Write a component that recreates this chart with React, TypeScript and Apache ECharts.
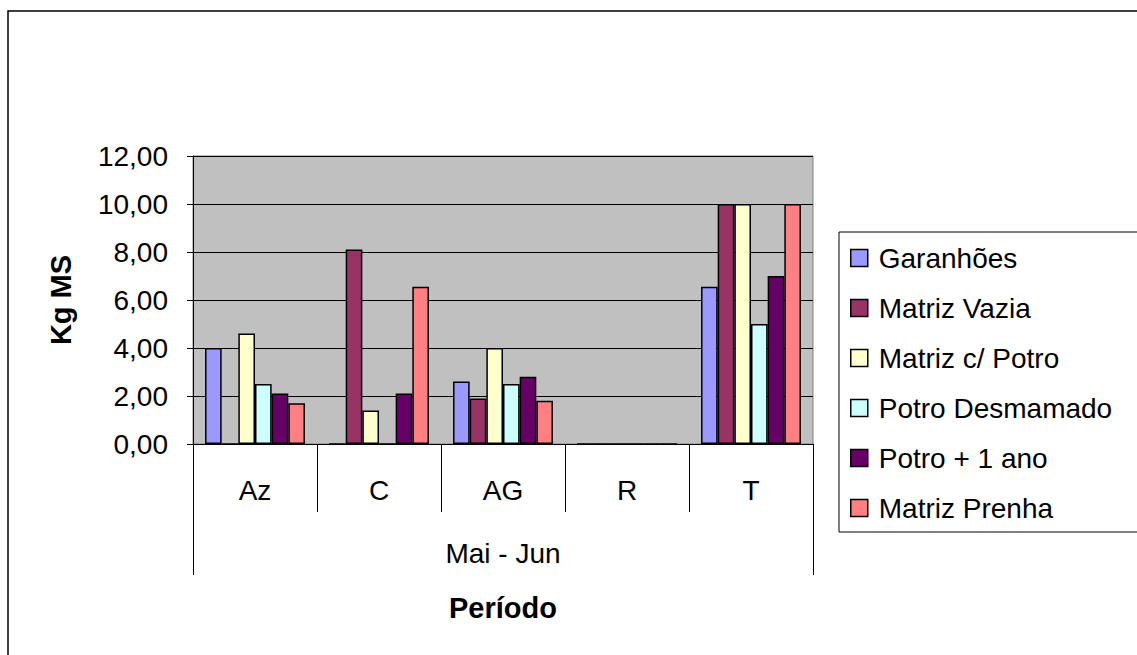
import React, { useEffect, useRef } from "react";
import * as echarts from "echarts";

const categories = ["Az", "C", "AG", "R", "T"];
const groupLabels = ["Mai - Jun"];
const seriesNames = [
  "Garanhões",
  "Matriz Vazia",
  "Matriz c/ Potro",
  "Potro Desmamado",
  "Potro + 1 ano",
  "Matriz Prenha",
];
const garanhoes = [4.0, 0, 2.6, 0, 6.55];
const matrizVazia = [0, 8.1, 1.9, 0, 10.0];
const matrizCPotro = [4.6, 1.4, 4.0, 0, 10.0];
const potroDesmamado = [2.5, 0, 2.5, 0, 5.0];
const potroMais1 = [2.1, 2.1, 2.8, 0, 7.0];
const matrizPrenha = [1.7, 6.55, 1.8, 0, 10.0];
const seriesValues = [garanhoes, matrizVazia, matrizCPotro, potroDesmamado, potroMais1, matrizPrenha];
const seriesColors = ["#9999FF", "#993366", "#FFFFCC", "#CCFFFF", "#660066", "#FF8080"];
const yMin = 0;
const yMax = 12;
const yInterval = 2;
const yTitle = "Kg MS";
const xTitle = "Período";

const FONT = "'Liberation Sans', Arial, sans-serif";

export default function App() {
  const ref = useRef<HTMLDivElement>(null);
  useEffect(() => {
    if (!ref.current) return;
    const chart = echarts.init(ref.current, undefined, { renderer: "svg" });
    chart.setOption({
      animation: false,
      backgroundColor: "#ffffff",
      textStyle: { fontFamily: FONT, color: "#000" },
      graphic: [
        {
          type: "rect",
          z: -10,
          shape: { x: 8, y: 11, width: 1400, height: 900 },
          style: { fill: "none", stroke: "#000", lineWidth: 1.5 },
          silent: true,
        },
      ],
      grid: {
        left: 193,
        top: 156,
        width: 620,
        height: 288,
        show: true,
        backgroundColor: "#C0C0C0",
        borderColor: "#808080",
        borderWidth: 1,
        containLabel: false,
      },
      legend: {
        orient: "vertical",
        left: 839,
        top: 232,
        padding: [11, 60, 9, 11],
        backgroundColor: "#fff",
        borderColor: "#000",
        borderWidth: 1,
        borderRadius: 0,
        itemWidth: 17,
        itemHeight: 17,
        itemGap: 20,
        icon: "rect",
        itemStyle: { borderColor: "#000", borderWidth: 1.5 },
        textStyle: {
          fontFamily: FONT,
          fontSize: 28,
          color: "#000",
          lineHeight: 30,
          padding: [0, 0, 0, 6],
        },
        data: seriesNames,
      },
      xAxis: [
        {
          type: "category",
          data: categories,
          gridIndex: 0,
          position: "bottom",
          axisLine: { show: true, lineStyle: { color: "#000", width: 1 } },
          axisTick: {
            show: true,
            interval: 0,
            length: 68,
            alignWithLabel: false,
            lineStyle: { color: "#000", width: 1 },
          },
          axisLabel: {
            interval: 0,
            margin: 32,
            fontSize: 28,
            fontFamily: FONT,
            color: "#000",
            lineHeight: 28,
          },
          splitLine: { show: false },
        },
        {
          type: "category",
          data: groupLabels,
          gridIndex: 0,
          position: "bottom",
          axisLine: { show: false },
          axisTick: {
            show: true,
            interval: 0,
            length: 131,
            alignWithLabel: false,
            lineStyle: { color: "#000", width: 1 },
          },
          axisLabel: {
            interval: 0,
            margin: 95,
            fontSize: 28,
            fontFamily: FONT,
            color: "#000",
            lineHeight: 28,
          },
          name: xTitle,
          nameLocation: "middle",
          nameGap: 149,
          nameTextStyle: {
            fontSize: 29,
            fontWeight: "bold",
            fontFamily: FONT,
            color: "#000",
          },
          splitLine: { show: false },
        },
      ],
      yAxis: {
        type: "value",
        min: yMin,
        max: yMax,
        interval: yInterval,
        axisLine: { show: true, lineStyle: { color: "#000", width: 1 } },
        axisTick: { show: true, length: 6, lineStyle: { color: "#000" } },
        axisLabel: {
          margin: 25,
          fontSize: 28,
          fontFamily: FONT,
          color: "#000",
          formatter: (v: number) => v.toFixed(2).replace(".", ","),
        },
        splitLine: { show: true, lineStyle: { color: "#000", width: 1 } },
        name: yTitle,
        nameLocation: "middle",
        nameRotate: 90,
        nameGap: 118,
        nameTextStyle: {
          fontSize: 29,
          fontWeight: "bold",
          fontFamily: FONT,
          color: "#000",
        },
      },
      series: seriesNames.map((name, i) => ({
        name,
        type: "bar",
        xAxisIndex: 0,
        data: seriesValues[i],
        barGap: "0%",
        barCategoryGap: "19.4%",
        itemStyle: {
          color: seriesColors[i],
          borderColor: "#000",
          borderWidth: 1.5,
        },
      })),
    });
    return () => chart.dispose();
  }, []);
  return (
    <div
      ref={ref}
      style={{ position: "absolute", left: 0, top: 0, width: 1137, height: 655 }}
    />
  );
}
